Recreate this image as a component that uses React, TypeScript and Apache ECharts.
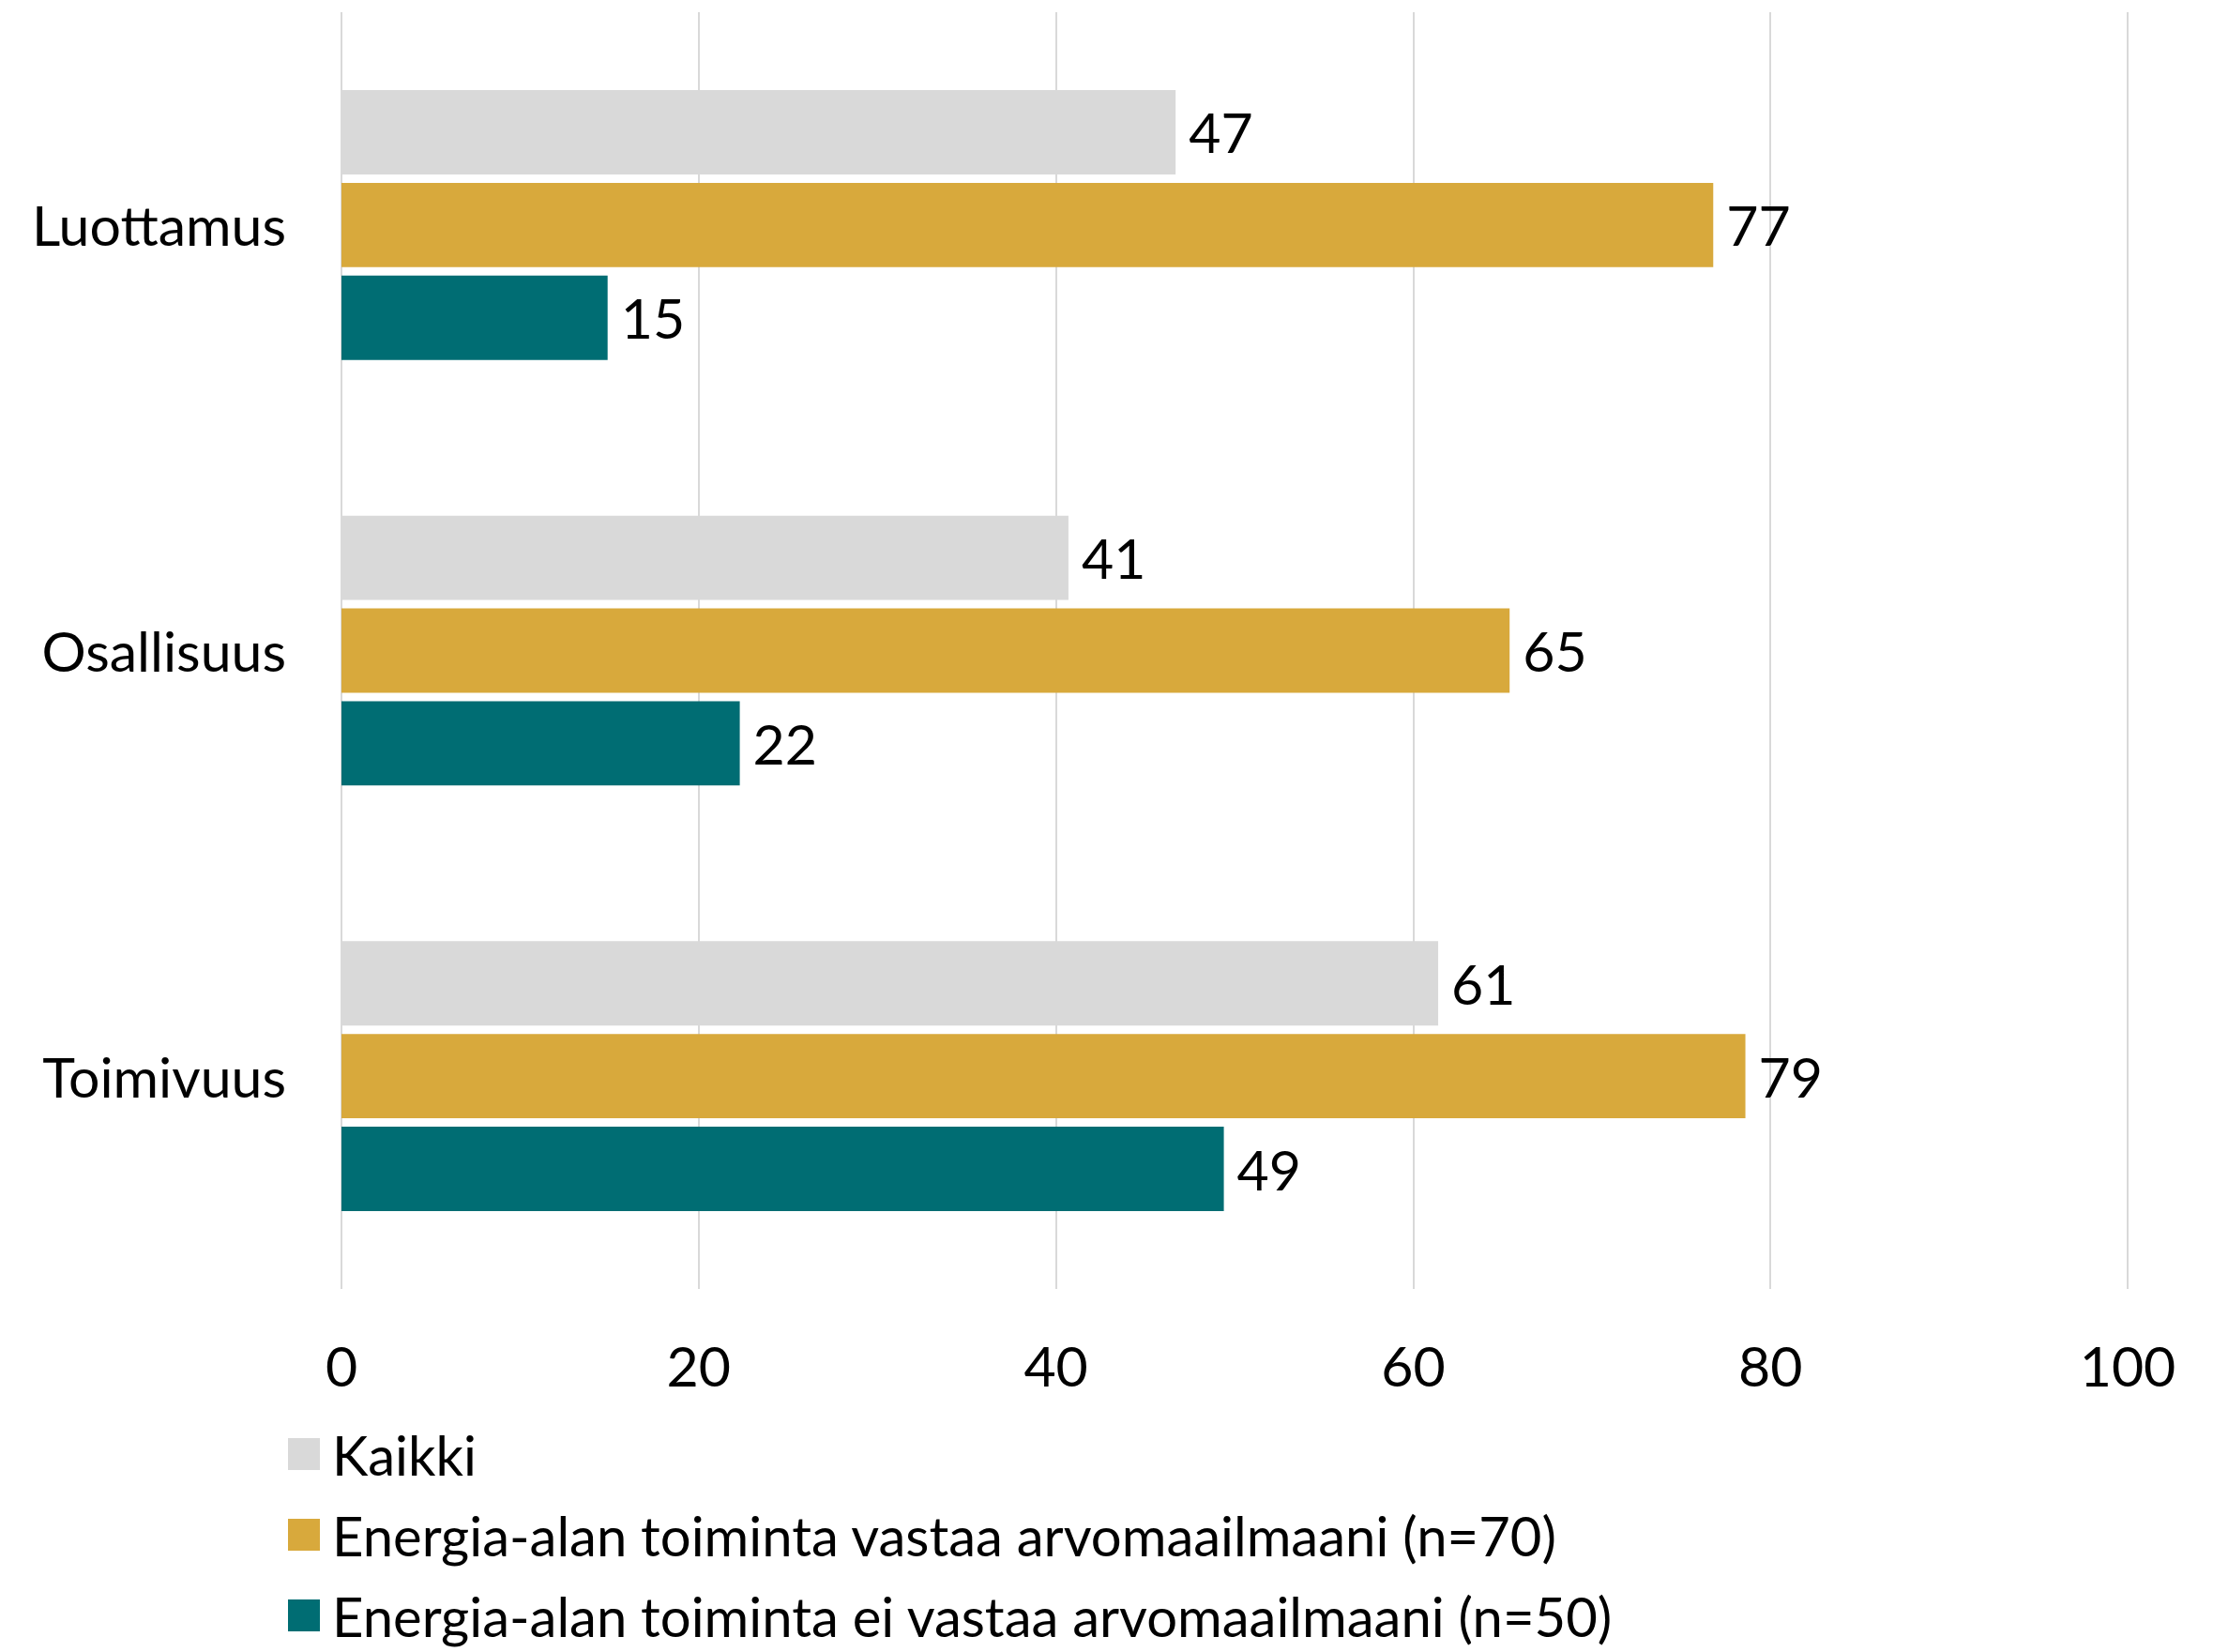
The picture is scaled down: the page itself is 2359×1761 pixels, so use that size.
import React, { useEffect, useRef } from "react";
import * as echarts from "echarts";

const categories = ["Luottamus", "Osallisuus", "Toimivuus"];
const seriesNames = [
  "Kaikki",
  "Energia-alan toiminta vastaa arvomaailmaani (n=70)",
  "Energia-alan toiminta ei vastaa arvomaailmaani (n=50)",
];
const kaikki = [46.7, 40.7, 61.4];
const vastaa = [76.8, 65.4, 78.6];
const eiVastaa = [14.9, 22.3, 49.4];
const colors = ["#D9D9D9", "#D8A93C", "#006D73"];
const xTicks = { min: 0, max: 100, interval: 20 };

const FONT = "Lato";

export default function App() {
  const ref = useRef<HTMLDivElement>(null);
  useEffect(() => {
    document.body.style.margin = "0";
    const chart = echarts.init(ref.current!, null, { renderer: "svg" });
    const values = [kaikki, vastaa, eiVastaa];
    chart.setOption({
      animation: false,
      textStyle: { fontFamily: FONT },
      grid: { left: 364, right: 91, top: 13, bottom: 387, containLabel: false },
      xAxis: {
        type: "value",
        min: xTicks.min,
        max: xTicks.max,
        interval: xTicks.interval,
        axisLine: { show: false },
        axisTick: { show: false },
        axisLabel: { color: "#000", fontSize: 59, fontFamily: FONT, margin: 52 },
        splitLine: { show: true, lineStyle: { color: "#D9D9D9", width: 2 } },
      },
      yAxis: {
        type: "category",
        data: categories,
        inverse: true,
        axisLine: { show: false },
        axisTick: { show: false },
        axisLabel: { color: "#000", fontSize: 59, fontFamily: FONT, margin: 59 },
      },
      legend: {
        orient: "vertical",
        left: 307,
        top: 1521,
        height: 240,
        padding: 0,
        itemWidth: 34,
        itemHeight: 34,
        itemGap: 28,
        icon: "rect",
        textStyle: {
          color: "#000",
          fontSize: 58,
          fontFamily: FONT,
          lineHeight: 58,
          padding: [0, 0, 0, 8],
        },
        data: seriesNames,
      },
      series: seriesNames.map((name, i) => ({
        name,
        type: "bar",
        data: values[i],
        barGap: "10%",
        barCategoryGap: "36.6%",
        itemStyle: { color: colors[i] },
        label: {
          show: true,
          position: "right",
          distance: 14,
          color: "#000",
          fontSize: 59,
          fontFamily: FONT,
          formatter: (p: any) => String(Math.round(p.value)),
        },
      })),
    });
    return () => chart.dispose();
  }, []);
  return (
    <div
      ref={ref}
      style={{ position: "absolute", left: 0, top: 0, width: 2359, height: 1761, background: "#fff" }}
    />
  );
}
